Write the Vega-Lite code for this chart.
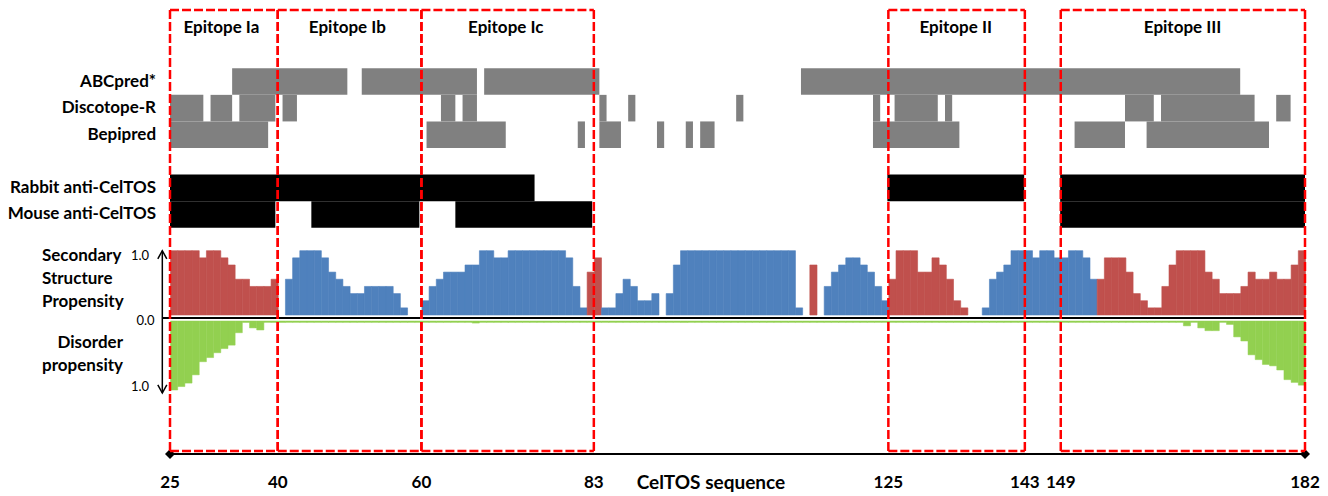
{
  "$schema": "https://vega.github.io/schema/vega-lite/v6.json",
  "width": 1135,
  "height": 441,
  "autosize": {"type": "none"},
  "padding": {"left": 170, "top": 10, "right": 23, "bottom": 45},
  "background": "white",
  "config": {"view": {"stroke": null}, "font": "Lato"},
  "datasets": {
    "residues": [
      {"r":25,"s":"H","p":1,"d":1},{"r":26,"s":"H","p":1,"d":0.95},{"r":27,"s":"H","p":1,"d":0.9},{"r":28,"s":"H","p":1,"d":0.78},
      {"r":29,"s":"H","p":0.889,"d":0.59},{"r":30,"s":"H","p":1,"d":0.53},{"r":31,"s":"H","p":1,"d":0.46},{"r":32,"s":"H","p":0.889,"d":0.4},
      {"r":33,"s":"H","p":0.778,"d":0.35},{"r":34,"s":"H","p":0.556,"d":0.17},{"r":35,"s":"H","p":0.556,"d":0.02},{"r":36,"s":"H","p":0.444,"d":0.1},
      {"r":37,"s":"H","p":0.444,"d":0.13},{"r":38,"s":"H","p":0.444,"d":0.02},{"r":39,"s":"H","p":0.556,"d":0.02},{"r":40,"s":"C","p":0,"d":0.02},
      {"r":41,"s":"E","p":0.556,"d":0.02},{"r":42,"s":"E","p":0.889,"d":0.02},{"r":43,"s":"E","p":1,"d":0.02},{"r":44,"s":"E","p":1,"d":0.02},
      {"r":45,"s":"E","p":1,"d":0.02},{"r":46,"s":"E","p":0.889,"d":0.02},{"r":47,"s":"E","p":0.667,"d":0.02},{"r":48,"s":"E","p":0.556,"d":0.02},
      {"r":49,"s":"E","p":0.444,"d":0.02},{"r":50,"s":"E","p":0.333,"d":0.02},{"r":51,"s":"E","p":0.333,"d":0.02},{"r":52,"s":"E","p":0.444,"d":0.02},
      {"r":53,"s":"E","p":0.444,"d":0.02},{"r":54,"s":"E","p":0.444,"d":0.02},{"r":55,"s":"E","p":0.444,"d":0.02},{"r":56,"s":"E","p":0.333,"d":0.02},
      {"r":57,"s":"E","p":0.111,"d":0.02},{"r":58,"s":"C","p":0,"d":0.02},{"r":59,"s":"C","p":0,"d":0.02},{"r":60,"s":"E","p":0.222,"d":0.02},
      {"r":61,"s":"E","p":0.444,"d":0.02},{"r":62,"s":"E","p":0.556,"d":0.02},{"r":63,"s":"E","p":0.667,"d":0.02},{"r":64,"s":"E","p":0.667,"d":0.02},
      {"r":65,"s":"E","p":0.667,"d":0.02},{"r":66,"s":"E","p":0.778,"d":0.02},{"r":67,"s":"E","p":0.778,"d":0.03},{"r":68,"s":"E","p":1,"d":0.02},
      {"r":69,"s":"E","p":1,"d":0.02},{"r":70,"s":"E","p":0.889,"d":0.02},{"r":71,"s":"E","p":0.889,"d":0.02},{"r":72,"s":"E","p":1,"d":0.02},
      {"r":73,"s":"E","p":1,"d":0.02},{"r":74,"s":"E","p":1,"d":0.02},{"r":75,"s":"E","p":1,"d":0.02},{"r":76,"s":"E","p":1,"d":0.02},
      {"r":77,"s":"E","p":1,"d":0.02},{"r":78,"s":"E","p":1,"d":0.02},{"r":79,"s":"E","p":1,"d":0.02},{"r":80,"s":"E","p":0.889,"d":0.02},
      {"r":81,"s":"E","p":0.444,"d":0.02},{"r":82,"s":"E","p":0.111,"d":0.02},{"r":83,"s":"H","p":0.667,"d":0.02},{"r":84,"s":"H","p":0.889,"d":0.02},
      {"r":85,"s":"E","p":0.111,"d":0.02},{"r":86,"s":"E","p":0.111,"d":0.02},{"r":87,"s":"E","p":0.333,"d":0.02},{"r":88,"s":"E","p":0.556,"d":0.02},
      {"r":89,"s":"E","p":0.444,"d":0.02},{"r":90,"s":"E","p":0.222,"d":0.02},{"r":91,"s":"E","p":0.222,"d":0.02},{"r":92,"s":"E","p":0.333,"d":0.02},
      {"r":93,"s":"C","p":0,"d":0.02},{"r":94,"s":"E","p":0.333,"d":0.02},{"r":95,"s":"E","p":0.778,"d":0.02},{"r":96,"s":"E","p":1,"d":0.02},
      {"r":97,"s":"E","p":1,"d":0.02},{"r":98,"s":"E","p":1,"d":0.02},{"r":99,"s":"E","p":1,"d":0.02},{"r":100,"s":"E","p":1,"d":0.02},
      {"r":101,"s":"E","p":1,"d":0.02},{"r":102,"s":"E","p":1,"d":0.02},{"r":103,"s":"E","p":1,"d":0.02},{"r":104,"s":"E","p":1,"d":0.02},
      {"r":105,"s":"E","p":1,"d":0.02},{"r":106,"s":"E","p":1,"d":0.02},{"r":107,"s":"E","p":1,"d":0.02},{"r":108,"s":"E","p":1,"d":0.02},
      {"r":109,"s":"E","p":1,"d":0.02},{"r":110,"s":"E","p":1,"d":0.02},{"r":111,"s":"E","p":1,"d":0.02},{"r":112,"s":"E","p":0.111,"d":0.02},
      {"r":113,"s":"C","p":0,"d":0.02},{"r":114,"s":"H","p":0.778,"d":0.02},{"r":115,"s":"C","p":0,"d":0.02},{"r":116,"s":"E","p":0.444,"d":0.02},
      {"r":117,"s":"E","p":0.667,"d":0.02},{"r":118,"s":"E","p":0.778,"d":0.02},{"r":119,"s":"E","p":0.889,"d":0.02},{"r":120,"s":"E","p":0.889,"d":0.02},
      {"r":121,"s":"E","p":0.778,"d":0.02},{"r":122,"s":"E","p":0.667,"d":0.02},{"r":123,"s":"E","p":0.444,"d":0.02},{"r":124,"s":"E","p":0.222,"d":0.02},
      {"r":125,"s":"H","p":0.556,"d":0.02},{"r":126,"s":"H","p":1,"d":0.02},{"r":127,"s":"H","p":1,"d":0.02},{"r":128,"s":"H","p":1,"d":0.02},
      {"r":129,"s":"H","p":0.667,"d":0.02},{"r":130,"s":"H","p":0.667,"d":0.02},{"r":131,"s":"H","p":0.889,"d":0.02},{"r":132,"s":"H","p":0.778,"d":0.02},
      {"r":133,"s":"H","p":0.556,"d":0.02},{"r":134,"s":"H","p":0.222,"d":0.02},{"r":135,"s":"H","p":0.111,"d":0.02},{"r":136,"s":"C","p":0,"d":0.02},
      {"r":137,"s":"C","p":0,"d":0.02},{"r":138,"s":"E","p":0.111,"d":0.02},{"r":139,"s":"E","p":0.556,"d":0.02},{"r":140,"s":"E","p":0.667,"d":0.02},
      {"r":141,"s":"E","p":0.778,"d":0.02},{"r":142,"s":"E","p":1,"d":0.02},{"r":143,"s":"E","p":1,"d":0.02},{"r":144,"s":"E","p":1,"d":0.02},
      {"r":145,"s":"E","p":0.889,"d":0.02},{"r":146,"s":"E","p":1,"d":0.02},{"r":147,"s":"E","p":1,"d":0.02},{"r":148,"s":"E","p":0.889,"d":0.02},
      {"r":149,"s":"E","p":0.889,"d":0.02},{"r":150,"s":"E","p":1,"d":0.02},{"r":151,"s":"E","p":1,"d":0.02},{"r":152,"s":"E","p":0.889,"d":0.02},
      {"r":153,"s":"E","p":0.556,"d":0.02},{"r":154,"s":"H","p":0.556,"d":0.02},{"r":155,"s":"H","p":0.889,"d":0.02},{"r":156,"s":"H","p":0.889,"d":0.02},
      {"r":157,"s":"H","p":0.889,"d":0.02},{"r":158,"s":"H","p":0.667,"d":0.02},{"r":159,"s":"H","p":0.333,"d":0.02},{"r":160,"s":"H","p":0.222,"d":0.02},
      {"r":161,"s":"H","p":0.111,"d":0.02},{"r":162,"s":"H","p":0.111,"d":0.02},{"r":163,"s":"H","p":0.444,"d":0.02},{"r":164,"s":"H","p":0.778,"d":0.02},
      {"r":165,"s":"H","p":1,"d":0.02},{"r":166,"s":"H","p":1,"d":0.07},{"r":167,"s":"H","p":1,"d":0.02},{"r":168,"s":"H","p":1,"d":0.1},
      {"r":169,"s":"H","p":0.667,"d":0.14},{"r":170,"s":"H","p":0.556,"d":0.14},{"r":171,"s":"H","p":0.333,"d":0.02},{"r":172,"s":"H","p":0.333,"d":0.05},
      {"r":173,"s":"H","p":0.333,"d":0.23},{"r":174,"s":"H","p":0.444,"d":0.29},{"r":175,"s":"H","p":0.667,"d":0.49},{"r":176,"s":"H","p":0.556,"d":0.56},
      {"r":177,"s":"H","p":0.556,"d":0.63},{"r":178,"s":"H","p":0.667,"d":0.65},{"r":179,"s":"H","p":0.556,"d":0.71},{"r":180,"s":"H","p":0.556,"d":0.85},
      {"r":181,"s":"H","p":0.778,"d":0.89},{"r":182,"s":"H","p":1,"d":0.93}
    ],
    "tracks": [
      {"track":"ABCpred*","source":"prediction","start":34,"end":50},
      {"track":"ABCpred*","source":"prediction","start":52,"end":68},
      {"track":"ABCpred*","source":"prediction","start":69,"end":85},
      {"track":"ABCpred*","source":"prediction","start":113,"end":174},
      {"track":"Discotope-R","source":"prediction","start":25,"end":30},
      {"track":"Discotope-R","source":"prediction","start":31,"end":34},
      {"track":"Discotope-R","source":"prediction","start":35,"end":40},
      {"track":"Discotope-R","source":"prediction","start":41,"end":43},
      {"track":"Discotope-R","source":"prediction","start":63,"end":65},
      {"track":"Discotope-R","source":"prediction","start":66,"end":68},
      {"track":"Discotope-R","source":"prediction","start":85,"end":86},
      {"track":"Discotope-R","source":"prediction","start":89,"end":90},
      {"track":"Discotope-R","source":"prediction","start":104,"end":105},
      {"track":"Discotope-R","source":"prediction","start":123,"end":124},
      {"track":"Discotope-R","source":"prediction","start":126,"end":132},
      {"track":"Discotope-R","source":"prediction","start":133,"end":134},
      {"track":"Discotope-R","source":"prediction","start":158,"end":162},
      {"track":"Discotope-R","source":"prediction","start":163,"end":176},
      {"track":"Discotope-R","source":"prediction","start":179,"end":181},
      {"track":"Bepipred","source":"prediction","start":25,"end":39},
      {"track":"Bepipred","source":"prediction","start":61,"end":72},
      {"track":"Bepipred","source":"prediction","start":82,"end":83},
      {"track":"Bepipred","source":"prediction","start":85,"end":88},
      {"track":"Bepipred","source":"prediction","start":93,"end":94},
      {"track":"Bepipred","source":"prediction","start":97,"end":98},
      {"track":"Bepipred","source":"prediction","start":99,"end":101},
      {"track":"Bepipred","source":"prediction","start":123,"end":135},
      {"track":"Bepipred","source":"prediction","start":151,"end":158},
      {"track":"Bepipred","source":"prediction","start":161,"end":178},
      {"track":"Rabbit anti-CelTOS","source":"antibody","start":25,"end":76},
      {"track":"Rabbit anti-CelTOS","source":"antibody","start":125,"end":144},
      {"track":"Rabbit anti-CelTOS","source":"antibody","start":149,"end":183},
      {"track":"Mouse anti-CelTOS","source":"antibody","start":25,"end":40},
      {"track":"Mouse anti-CelTOS","source":"antibody","start":45,"end":60},
      {"track":"Mouse anti-CelTOS","source":"antibody","start":65,"end":84},
      {"track":"Mouse anti-CelTOS","source":"antibody","start":149,"end":183}
    ],
    "trackNames": [
      {"track":"ABCpred*"},{"track":"Discotope-R"},{"track":"Bepipred"},{"track":"Rabbit anti-CelTOS"},{"track":"Mouse anti-CelTOS"}
    ],
    "epitopes": [
      {"name":"Epitope Ia","start":25,"end":40},
      {"name":"Epitope Ib","start":40,"end":60},
      {"name":"Epitope Ic","start":60,"end":84},
      {"name":"Epitope II","start":125,"end":144},
      {"name":"Epitope III","start":149,"end":183}
    ],
    "ticks": [
      {"label":"25","pos":25},{"label":"40","pos":40},{"label":"60","pos":60},{"label":"83","pos":84},
      {"label":"125","pos":125},{"label":"143","pos":144},{"label":"149","pos":149},{"label":"182","pos":183}
    ]
  },
  "layer": [
    {
      "layer": [
        {
          "data": {"name": "tracks"},
          "mark": {"type": "rect", "clip": true},
          "encoding": {
            "x": {"field": "start", "type": "quantitative", "scale": {"domain": [25.37, 183], "nice": false, "zero": false}, "axis": null},
            "x2": {"field": "end"},
            "y": {"field": "track", "type": "nominal",
                  "scale": {"type": "band", "domain": ["Epitope", " ", "ABCpred*", "Discotope-R", "Bepipred", "  ", "Rabbit anti-CelTOS", "Mouse anti-CelTOS"], "range": [5.16, 217.7], "paddingInner": 0, "paddingOuter": 0},
                  "axis": null},
            "color": {"field": "source", "type": "nominal", "scale": {"domain": ["prediction", "antibody"], "range": ["#808080", "#000000"]}, "legend": null}
          }
        },
        {
          "data": {"name": "trackNames"},
          "mark": {"type": "text", "fontSize": 17, "fontWeight": "bold", "color": "#000000", "align": "right", "baseline": "middle"},
          "encoding": {
            "x": {"datum": 23.43, "type": "quantitative", "scale": {"domain": [25.37, 183], "nice": false, "zero": false}, "axis": null},
            "y": {"field": "track", "type": "nominal",
                  "scale": {"type": "band", "domain": ["Epitope", " ", "ABCpred*", "Discotope-R", "Bepipred", "  ", "Rabbit anti-CelTOS", "Mouse anti-CelTOS"], "range": [5.16, 217.7], "paddingInner": 0, "paddingOuter": 0},
                  "axis": null},
            "text": {"field": "track", "type": "nominal"}
          }
        },
        {
          "data": {"name": "epitopes"},
          "transform": [{"fold": ["start", "end"], "as": ["edge", "pos"]}],
          "mark": {"type": "text", "fontSize": 17, "fontWeight": "bold", "color": "#000000", "align": "center", "baseline": "middle"},
          "encoding": {
            "x": {"aggregate": "mean", "field": "pos", "type": "quantitative", "scale": {"domain": [25.37, 183], "nice": false, "zero": false}, "axis": null},
            "y": {"datum": "Epitope", "type": "nominal", "scale": {"type": "band", "domain": ["Epitope", " ", "ABCpred*", "Discotope-R", "Bepipred", "  ", "Rabbit anti-CelTOS", "Mouse anti-CelTOS"], "range": [5.16, 217.7], "paddingInner": 0, "paddingOuter": 0}, "axis": null},
            "text": {"field": "name", "type": "nominal"}
          }
        }
      ]
    },
    {
      "layer": [
        {
          "layer": [
            {
              "data": {"name": "residues"},
              "transform": [{"filter": "datum.s !== 'C'"}],
              "mark": {"type": "bar", "binSpacing": 0, "strokeWidth": 0.6},
              "encoding": {
                "x": {"field": "r", "type": "quantitative", "bin": {"step": 1, "extent": [25, 183]},
                      "scale": {"domain": [25, 183], "nice": false, "zero": false}, "axis": null},
                "y": {"field": "p", "type": "quantitative", "scale": {"domain": [0, 1], "range": [305, 240.7], "nice": false}, "axis": null},
                "color": {"field": "s", "type": "nominal", "scale": {"domain": ["H", "E"], "range": ["#C0504D", "#4F81BD"]}, "legend": null},
                "stroke": {"field": "s", "type": "nominal", "scale": {"domain": ["H", "E"], "range": ["#C0504D", "#4F81BD"]}, "legend": null}
              }
            },
            {
              "data": {"values": [{}]},
              "mark": {"type": "rule", "color": "#000000", "strokeWidth": 2},
              "encoding": {
                "x": {"datum": 23.93, "type": "quantitative", "scale": {"domain": [25, 183], "nice": false, "zero": false}, "axis": null},
                "x2": {"datum": 183},
                "y": {"datum": -0.047, "type": "quantitative", "scale": {"domain": [0, 1], "range": [305, 240.7], "nice": false}, "axis": null}
              }
            },
            {
              "data": {"values": [{}]},
              "mark": {"type": "rule", "color": "#000000", "strokeWidth": 1.5},
              "encoding": {
                "x": {"datum": 23.93, "type": "quantitative", "scale": {"domain": [25, 183], "nice": false, "zero": false}, "axis": null},
                "y": {"datum": 1, "type": "quantitative", "scale": {"domain": [0, 1], "range": [305, 240.7], "nice": false}, "axis": null},
                "y2": {"datum": -1.213}
              }
            },
            {
              "data": {"values": [{}]},
              "mark": {"type": "point", "shape": "M-1,1.8L0,0L1,1.8", "size": 81, "filled": false, "stroke": "#000000", "strokeWidth": 1.5, "opacity": 1},
              "encoding": {
                "x": {"datum": 23.93, "type": "quantitative", "scale": {"domain": [25, 183], "nice": false, "zero": false}, "axis": null},
                "y": {"datum": 1, "type": "quantitative", "scale": {"domain": [0, 1], "range": [305, 240.7], "nice": false}, "axis": null}
              }
            },
            {
              "data": {"values": [{}]},
              "mark": {"type": "point", "shape": "M-1,-1.8L0,0L1,-1.8", "size": 81, "filled": false, "stroke": "#000000", "strokeWidth": 1.5, "opacity": 1},
              "encoding": {
                "x": {"datum": 23.93, "type": "quantitative", "scale": {"domain": [25, 183], "nice": false, "zero": false}, "axis": null},
                "y": {"datum": -1.213, "type": "quantitative", "scale": {"domain": [0, 1], "range": [305, 240.7], "nice": false}, "axis": null}
              }
            },
            {
              "data": {"values": [{}]},
              "mark": {"type": "text", "text": "1.0", "fontSize": 13, "color": "#000000", "align": "center", "baseline": "middle"},
              "encoding": {
                "x": {"datum": 20.82, "type": "quantitative", "scale": {"domain": [25, 183], "nice": false, "zero": false}, "axis": null},
                "y": {"datum": 0.918, "type": "quantitative", "scale": {"domain": [0, 1], "range": [305, 240.7], "nice": false}, "axis": null}
              }
            },
            {
              "data": {"values": [{}]},
              "mark": {"type": "text", "text": "0.0", "fontSize": 13, "color": "#000000", "align": "center", "baseline": "middle"},
              "encoding": {
                "x": {"datum": 21.59, "type": "quantitative", "scale": {"domain": [25, 183], "nice": false, "zero": false}, "axis": null},
                "y": {"datum": -0.1, "type": "quantitative", "scale": {"domain": [0, 1], "range": [305, 240.7], "nice": false}, "axis": null}
              }
            },
            {
              "data": {"values": [{}]},
              "mark": {"type": "text", "text": ["Secondary", "Structure", "Propensity"], "fontSize": 17, "fontWeight": "bold", "color": "#000000", "align": "left", "baseline": "middle", "lineHeight": 23},
              "encoding": {
                "x": {"datum": 7.18, "type": "quantitative", "scale": {"domain": [25, 183], "nice": false, "zero": false}, "axis": null},
                "y": {"datum": 0.918, "type": "quantitative", "scale": {"domain": [0, 1], "range": [305, 240.7], "nice": false}, "axis": null}
              }
            }
          ]
        },
        {
          "layer": [
            {
              "data": {"name": "residues"},
              "mark": {"type": "bar", "binSpacing": 0, "color": "#92D050", "stroke": "#92D050", "strokeWidth": 0.5},
              "encoding": {
                "x": {"field": "r", "type": "quantitative", "bin": {"step": 1, "extent": [25, 183]}, "scale": {"domain": [25, 183], "nice": false, "zero": false}, "axis": null},
                "y": {"field": "d", "type": "quantitative", "scale": {"domain": [0, 1], "range": [311, 380], "nice": false}, "axis": null}
              }
            },
            {
              "data": {"values": [{}]},
              "mark": {"type": "text", "text": "1.0", "fontSize": 13, "color": "#000000", "align": "center", "baseline": "middle"},
              "encoding": {
                "x": {"datum": 20.82, "type": "quantitative", "scale": {"domain": [25, 183], "nice": false, "zero": false}, "axis": null},
                "y": {"datum": 0.957, "type": "quantitative", "scale": {"domain": [0, 1], "range": [311, 380], "nice": false}, "axis": null}
              }
            },
            {
              "data": {"values": [{}]},
              "mark": {"type": "text", "text": ["Disorder", "propensity"], "fontSize": 17, "fontWeight": "bold", "color": "#000000", "align": "right", "baseline": "middle", "lineHeight": 23},
              "encoding": {
                "x": {"datum": 18.46, "type": "quantitative", "scale": {"domain": [25, 183], "nice": false, "zero": false}, "axis": null},
                "y": {"datum": 0.319, "type": "quantitative", "scale": {"domain": [0, 1], "range": [311, 380], "nice": false}, "axis": null}
              }
            },
            {
              "data": {"values": [{}]},
              "mark": {"type": "rule", "color": "#000000", "strokeWidth": 2},
              "encoding": {
                "x": {"datum": 25, "type": "quantitative", "scale": {"domain": [25, 183], "nice": false, "zero": false}, "axis": null},
                "x2": {"datum": 183},
                "y": {"datum": 1.9275, "type": "quantitative", "scale": {"domain": [0, 1], "range": [311, 380], "nice": false}, "axis": null}
              }
            },
            {
              "data": {"values": [{"end": 25}, {"end": 183}]},
              "mark": {"type": "point", "shape": "diamond", "size": 100, "filled": true, "color": "#000000", "opacity": 1},
              "encoding": {
                "x": {"field": "end", "type": "quantitative", "scale": {"domain": [25, 183], "nice": false, "zero": false}, "axis": null},
                "y": {"datum": 1.9275, "type": "quantitative", "scale": {"domain": [0, 1], "range": [311, 380], "nice": false}, "axis": null}
              }
            },
            {
              "data": {"name": "ticks"},
              "mark": {"type": "text", "fontSize": 17, "fontWeight": "bold", "color": "#000000", "align": "center", "baseline": "middle"},
              "encoding": {
                "x": {"field": "pos", "type": "quantitative", "scale": {"domain": [25, 183], "nice": false, "zero": false}, "axis": null},
                "y": {"datum": 2.348, "type": "quantitative", "scale": {"domain": [0, 1], "range": [311, 380], "nice": false}, "axis": null},
                "text": {"field": "label", "type": "nominal"}
              }
            },
            {
              "data": {"values": [{}]},
              "mark": {"type": "text", "text": "CelTOS sequence", "fontSize": 19, "letterSpacing": 0.8, "fontWeight": "bold", "color": "#000000", "align": "center", "baseline": "middle"},
              "encoding": {
                "x": {"datum": 100.3, "type": "quantitative", "scale": {"domain": [25, 183], "nice": false, "zero": false}, "axis": null},
                "y": {"datum": 2.348, "type": "quantitative", "scale": {"domain": [0, 1], "range": [311, 380], "nice": false}, "axis": null}
              }
            },
            {
              "data": {"name": "epitopes"},
              "transform": [{"fold": ["start", "end"], "as": ["edge", "pos"]}],
              "mark": {"type": "rule", "color": "#FF0000", "strokeWidth": 2.5, "strokeDash": [9, 3]},
              "encoding": {
                "x": {"field": "pos", "type": "quantitative", "scale": {"domain": [25, 183], "nice": false, "zero": false}, "axis": null}
              }
            },
            {
              "data": {"name": "epitopes"},
              "mark": {"type": "rule", "color": "#FF0000", "strokeWidth": 2.5, "strokeDash": [9, 3]},
              "encoding": {
                "x": {"field": "start", "type": "quantitative", "scale": {"domain": [25, 183], "nice": false, "zero": false}, "axis": null},
                "x2": {"field": "end"},
                "y": {"datum": -4.507, "type": "quantitative", "scale": {"domain": [0, 1], "range": [311, 380], "nice": false}, "axis": null}
              }
            },
            {
              "data": {"name": "epitopes"},
              "mark": {"type": "rule", "color": "#FF0000", "strokeWidth": 2.5, "strokeDash": [9, 3]},
              "encoding": {
                "x": {"field": "start", "type": "quantitative", "scale": {"domain": [25, 183], "nice": false, "zero": false}, "axis": null},
                "x2": {"field": "end"},
                "y": {"datum": 1.884, "type": "quantitative", "scale": {"domain": [0, 1], "range": [311, 380], "nice": false}, "axis": null}
              }
            }
          ]
        }
      ],
      "resolve": {"scale": {"y": "independent"}}
    }
  ],
  "resolve": {"scale": {"x": "independent", "y": "independent", "color": "independent"}}
}
